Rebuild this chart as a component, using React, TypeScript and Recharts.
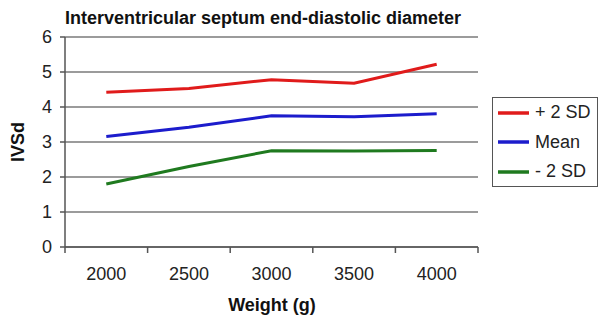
import { LineChart, Line, XAxis, YAxis, CartesianGrid, Legend } from "recharts"

// values (IVSd in mm by body weight)
const weights = [2000, 2500, 3000, 3500, 4000]
const plus2sd = [4.42, 4.53, 4.78, 4.68, 5.22]
const mean = [3.16, 3.42, 3.75, 3.72, 3.81]
const minus2sd = [1.8, 2.3, 2.75, 2.74, 2.76]

const seriesNames = ["+ 2 SD", "Mean", "- 2 SD"]
const yTicks = [0, 1, 2, 3, 4, 5, 6]
// category labels plus the marks that sit between the categories
const xTicks = [1750, 2000, 2250, 2500, 2750, 3000, 3250, 3500, 3750, 4000, 4250]

const data = weights.map((w, i) => ({
  weight: w,
  plus: plus2sd[i],
  mean: mean[i],
  minus: minus2sd[i],
}))

const FONT = "'Liberation Sans', Arial, sans-serif"

const WeightTick = (props: any) => {
  const { x, y, payload } = props
  if (!weights.includes(payload.value)) {
    return <line x1={x} y1={y} x2={x} y2={y + 6} stroke="#555" strokeWidth={1.5} />
  }
  return (
    <text x={x} y={y + 33} textAnchor="middle" fontSize={18} fill="#222" fontFamily={FONT}>
      {payload.value}
    </text>
  )
}

const renderLegend = (props: any) => {
  const items = [...(props.payload || [])].sort(
    (a: any, b: any) => seriesNames.indexOf(a.value) - seriesNames.indexOf(b.value)
  )
  return (
    <div
      style={{
        border: "1px solid #555",
        background: "#fff",
        boxSizing: "border-box",
        width: 106,
        height: 90,
        paddingLeft: 5,
        fontFamily: FONT,
        fontSize: 18,
        color: "#222",
      }}
    >
      {items.map((entry: any) => (
        <div key={entry.value} style={{ display: "flex", alignItems: "center", height: 29.5 }}>
          <svg width={31} height={4} style={{ display: "block" }}>
            <line x1={0} y1={2} x2={31} y2={2} stroke={entry.color} strokeWidth={3.5} />
          </svg>
          <span style={{ marginLeft: 6, whiteSpace: "nowrap" }}>{entry.value}</span>
        </div>
      ))}
    </div>
  )
}

export default function App() {
  return (
    <div style={{ position: "absolute", left: 0, top: 0, width: 598, height: 320, background: "#fff" }}>
      <LineChart width={598} height={320} data={data} margin={{ top: 37, right: 120, bottom: 0, left: 0 }}>
        <CartesianGrid vertical={false} stroke="#7a7a7a" strokeWidth={1.5} />
        <XAxis
          dataKey="weight"
          type="number"
          domain={[1750, 4250]}
          ticks={xTicks}
          interval={0}
          height={73}
          tickSize={0}
          tickMargin={0}
          tickLine={false}
          tick={<WeightTick />}
          stroke="#555"
          strokeWidth={1.5}
        />
        <YAxis
          domain={[0, 6]}
          ticks={yTicks}
          width={65}
          tickSize={5}
          tickMargin={8}
          stroke="#555"
          strokeWidth={1.5}
          tick={{ fontSize: 18, fill: "#222", fontFamily: FONT }}
        />
        <Legend
          layout="vertical"
          align="center"
          verticalAlign="middle"
          content={renderLegend}
          wrapperStyle={{ left: 492, top: 97, width: 106, height: 90 }}
        />
        <Line dataKey="plus" name={seriesNames[0]} stroke="#e01b1b" strokeWidth={3} dot={false} isAnimationActive={false} />
        <Line dataKey="mean" name={seriesNames[1]} stroke="#1c1ccc" strokeWidth={3} dot={false} isAnimationActive={false} />
        <Line dataKey="minus" name={seriesNames[2]} stroke="#1f7a1f" strokeWidth={3} dot={false} isAnimationActive={false} />
      </LineChart>
      <svg
        width={598}
        height={320}
        style={{ position: "absolute", left: 0, top: 0, pointerEvents: "none" }}
        fontFamily={FONT}
        fontWeight="bold"
        fill="#111"
      >
        <text x={263} y={24} textAnchor="middle" fontSize={18}>
          Interventricular septum end-diastolic diameter
        </text>
        <text x={24} y={142} textAnchor="middle" fontSize={18} transform="rotate(-90 24 142)">
          IVSd
        </text>
        <text x={272} y={311} textAnchor="middle" fontSize={18}>
          Weight (g)
        </text>
      </svg>
    </div>
  )
}
